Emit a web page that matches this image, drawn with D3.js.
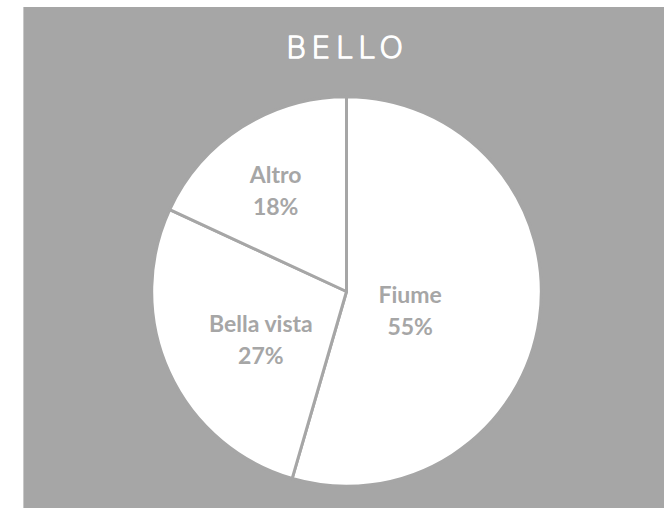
<!DOCTYPE html>
<html><head><meta charset="utf-8">
<script src="https://cdn.jsdelivr.net/npm/d3@7"></script>
<style>html,body{margin:0;padding:0;background:#fff;}</style>
</head><body>
<svg id="c" width="664" height="508"></svg>
<script>
const title = "BELLO";
const categories = ["Fiume", "Bella vista", "Altro"];
const values = [54.5, 27.4, 18.1];

const svg = d3.select("#c");
const W = 664, H = 508;
svg.append("rect").attr("x", 23).attr("y", 7).attr("width", W - 23).attr("height", H - 7)
  .attr("fill", "#a6a6a6");
svg.append("line").attr("x1", 23.5).attr("x2", 23.5).attr("y1", 7).attr("y2", H)
  .attr("stroke", "#c8c8c8").attr("stroke-width", 1);

svg.append("text").attr("x", 347).attr("y", 58).attr("text-anchor", "middle")
  .attr("fill", "#fff").attr("stroke", "#fff").attr("stroke-width", 1.3)
  .attr("stroke-linejoin", "round").attr("stroke-linecap", "round")
  .attr("font-family", "'DejaVu Sans'").attr("font-weight", 200)
  .attr("font-size", 31).attr("letter-spacing", 5)
  .text(title);

const cx = 346.5, cy = 291.5, R = 194.8;
const data = categories.map((c, i) => ({ name: c, value: values[i] }));
const pie = d3.pie().value(d => d.value).sort(null);
const arcs = pie(data);
const arc = d3.arc().innerRadius(0).outerRadius(R);
const g = svg.append("g").attr("transform", `translate(${cx},${cy})`);
g.selectAll("path").data(arcs).join("path")
  .attr("d", arc).attr("fill", "#fff")
  .attr("stroke", "#a6a6a6").attr("stroke-width", 3).attr("stroke-linejoin", "round");

const labelFrac = { "Fiume": 0.33, "Bella vista": 0.483, "Altro": 0.675 };
const total = d3.sum(values);
arcs.forEach(a => {
  const r = R * labelFrac[a.data.name];
  const la = d3.arc().innerRadius(r).outerRadius(r);
  const [x, y] = la.centroid(a);
  const t = g.append("text").attr("text-anchor", "middle")
    .attr("fill", "#a6a6a6").attr("font-family", "Lato,'Open Sans',sans-serif")
    .attr("font-weight", "bold").attr("font-size", 23)
    .attr("transform", `translate(${x},${y})`);
  t.append("tspan").attr("x", 0).attr("y", 2).text(a.data.name);
  t.append("tspan").attr("x", 0).attr("y", 34).text(Math.round(a.data.value / total * 100) + "%");
});
</script>
</body></html>
